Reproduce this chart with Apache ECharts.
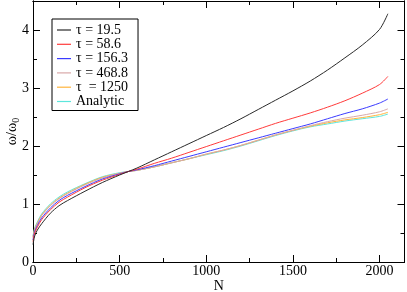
<!DOCTYPE html>
<html>
<head>
<meta charset="utf-8">
<script src="https://cdn.jsdelivr.net/npm/echarts@6/dist/echarts.min.js"></script>
<style>html,body{margin:0;padding:0;background:#fff;}#c{width:407px;height:292px;}</style>
</head>
<body>
<div id="c"></div>
<script>
const N = [0, 10, 25, 50, 100, 150, 200, 300, 400, 500, 550, 600, 700, 800, 900, 1000, 1100, 1200, 1300, 1400, 1500, 1600, 1700, 1800, 1900, 2000, 2048];
const tau19_5  = [0.30, 0.45, 0.55, 0.66, 0.84, 0.97, 1.06, 1.22, 1.37, 1.50, 1.56, 1.62, 1.76, 1.90, 2.04, 2.18, 2.32, 2.47, 2.63, 2.79, 2.95, 3.12, 3.31, 3.52, 3.74, 4.01, 4.28];
const tau58_6  = [0.35, 0.50, 0.60, 0.73, 0.90, 1.03, 1.12, 1.28, 1.41, 1.51, 1.56, 1.60, 1.70, 1.79, 1.89, 1.99, 2.09, 2.19, 2.29, 2.39, 2.48, 2.57, 2.67, 2.78, 2.91, 3.06, 3.20];
const tau156_3 = [0.38, 0.53, 0.63, 0.76, 0.93, 1.06, 1.15, 1.30, 1.43, 1.52, 1.56, 1.59, 1.66, 1.74, 1.82, 1.90, 1.98, 2.06, 2.14, 2.22, 2.30, 2.38, 2.47, 2.56, 2.64, 2.74, 2.81];
const tau468_8 = [0.42, 0.56, 0.66, 0.80, 0.97, 1.09, 1.18, 1.33, 1.45, 1.53, 1.56, 1.58, 1.64, 1.71, 1.78, 1.86, 1.93, 2.01, 2.10, 2.19, 2.27, 2.35, 2.42, 2.48, 2.53, 2.59, 2.64];
const tau1250  = [0.43, 0.57, 0.67, 0.81, 0.98, 1.10, 1.19, 1.34, 1.46, 1.53, 1.56, 1.58, 1.64, 1.71, 1.78, 1.86, 1.93, 2.01, 2.10, 2.19, 2.27, 2.34, 2.40, 2.45, 2.49, 2.54, 2.58];
const analytic = [0.45, 0.59, 0.69, 0.83, 1.00, 1.12, 1.21, 1.35, 1.47, 1.54, 1.56, 1.58, 1.64, 1.71, 1.78, 1.85, 1.92, 2.00, 2.09, 2.18, 2.26, 2.33, 2.38, 2.43, 2.47, 2.51, 2.55];
const seriesNames = ['τ = 19.5', 'τ = 58.6', 'τ = 156.3', 'τ = 468.8', 'τ  = 1250', 'Analytic'];
const xTicks = [0, 500, 1000, 1500, 2000];
const yTicks = [0, 1, 2, 3, 4];

const colors = ['#2a2a2a', '#ff3b3b', '#3b3bff', '#d8a8a8', '#ffb43c', '#5ce6dc'];
const allData = [tau19_5, tau58_6, tau156_3, tau468_8, tau1250, analytic];
const FONT = "'Liberation Serif', 'Times New Roman', serif";
const XMAX = 2144, YMAX = 4.5;

function xAx(pos, interval, len, labels) {
  return {
    type: 'value', position: pos, min: 0, max: XMAX, interval: interval,
    axisLine: { show: true, onZero: false, lineStyle: { color: '#000', width: 1 } },
    axisTick: { show: true, inside: true, length: len, lineStyle: { color: '#000' } },
    axisLabel: labels ? { show: true, showMaxLabel: false, fontFamily: FONT, fontSize: 14, color: '#000', margin: 2,
      formatter: v => (xTicks.indexOf(v) >= 0 ? String(v) : '') } : { show: false },
    splitLine: { show: false },
    name: labels ? 'N' : '', nameLocation: 'middle', nameGap: 17, nameMoveOverlap: false,
    nameTextStyle: { fontFamily: FONT, fontSize: 14, color: '#000' }
  };
}
function yAx(pos, interval, len, labels) {
  return {
    type: 'value', position: pos, min: 0, max: YMAX, interval: interval,
    axisLine: { show: true, onZero: false, lineStyle: { color: '#000', width: 1 } },
    axisTick: { show: true, inside: true, length: len, lineStyle: { color: '#000' } },
    axisLabel: labels ? { show: true, showMaxLabel: false, fontFamily: FONT, fontSize: 14, color: '#000', margin: 4,
      formatter: v => (yTicks.indexOf(v) >= 0 ? String(v) : '') } : { show: false },
    splitLine: { show: false },
    name: labels ? '{a|ω/ω}{b|0}' : '', nameLocation: 'middle', nameGap: 12, nameRotate: 90, nameMoveOverlap: false,
    nameTextStyle: { fontFamily: FONT, fontSize: 14, color: '#000',
      rich: { a: { fontFamily: FONT, fontSize: 14, color: '#000' },
              b: { fontFamily: FONT, fontSize: 10, color: '#000', padding: [7, 0, 0, 0] } } }
  };
}

const chart = echarts.init(document.getElementById('c'), null, { renderer: 'canvas' });
chart.setOption({
  animation: false,
  backgroundColor: '#fff',
  grid: { left: 33, right: 2.5, top: 1, bottom: 30, containLabel: false, outerBoundsMode: 'none' },
  xAxis: [xAx('bottom', 500, 7, true), xAx('bottom', 250, 4, false), xAx('top', 500, 7, false), xAx('top', 250, 4, false)],
  yAxis: [yAx('left', 1, 7, true), yAx('left', 0.5, 4, false), yAx('right', 1, 7, false), yAx('right', 0.5, 4, false)],
  legend: {
    orient: 'vertical', left: 52, top: 19,
    padding: [4, 10, 2, 5], itemGap: 0.3, itemWidth: 14, itemHeight: 1.2, icon: 'rect',
    borderColor: '#000', borderWidth: 1, borderRadius: 0,
    textStyle: { fontFamily: FONT, fontSize: 14, color: '#000', lineHeight: 14 },
    data: seriesNames
  },
  series: seriesNames.map((nm, i) => ({
    name: nm, type: 'line', xAxisIndex: 0, yAxisIndex: 0,
    symbol: 'none', smooth: 0.3,
    lineStyle: { color: colors[i], width: 1 },
    itemStyle: { color: colors[i] },
    data: N.map((n, j) => [n, allData[i][j]]),
    z: 10 - i
  }))
});
</script>
</body>
</html>
